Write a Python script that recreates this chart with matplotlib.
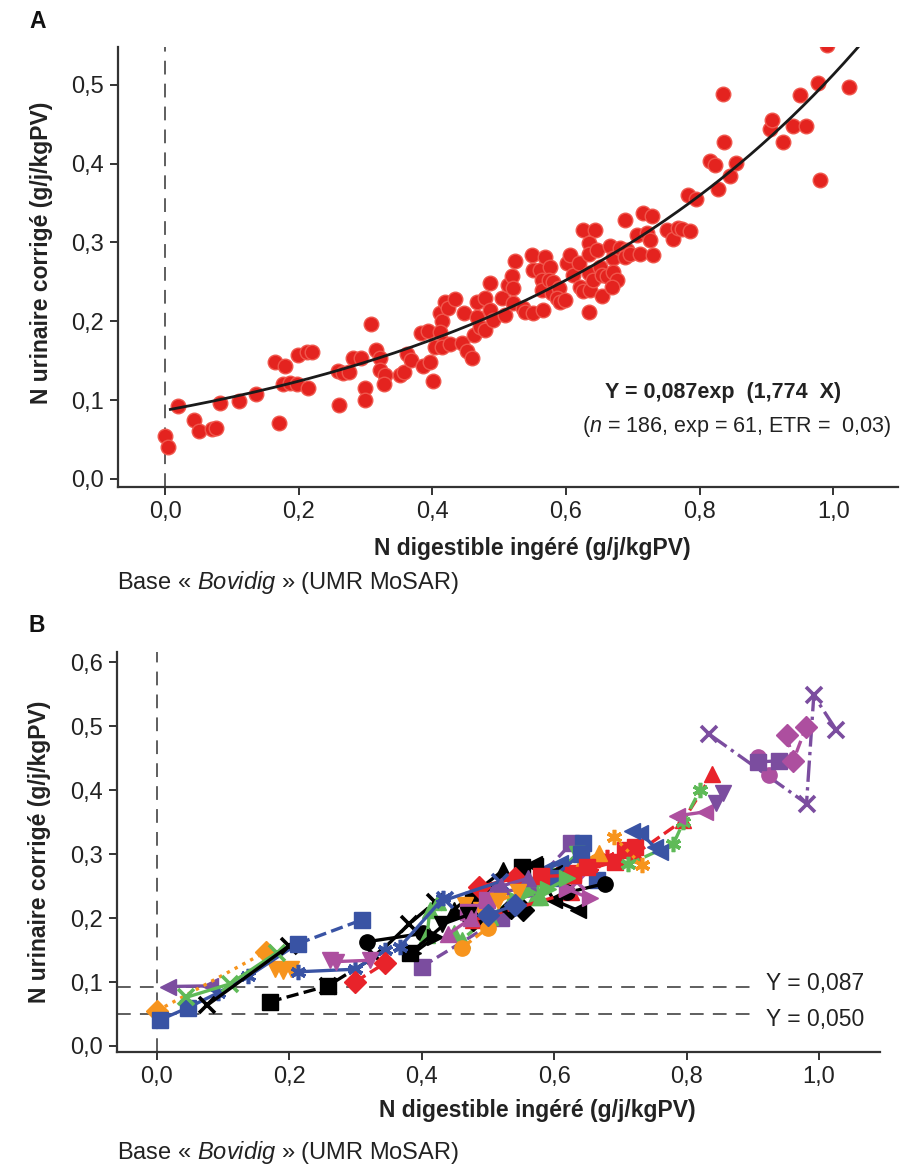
import numpy as np
import matplotlib
matplotlib.use('Agg')
import matplotlib.pyplot as plt

plt.rcParams['font.family'] = ['Liberation Sans', 'DejaVu Sans']
plt.rcParams['mathtext.fontset'] = 'custom'
plt.rcParams['mathtext.rm'] = 'Liberation Sans'
plt.rcParams['mathtext.it'] = 'Liberation Sans:italic'
plt.rcParams['mathtext.bf'] = 'Liberation Sans:bold'

# ---- panel A : individual observations ----
A_X = [0.000, 0.005, 0.020, 0.044, 0.051, 0.070, 0.076, 0.082, 0.110, 0.136,
       0.165, 0.180, 0.170, 0.176, 0.187, 0.197, 0.214, 0.199, 0.212, 0.220,
       0.259, 0.266, 0.276, 0.260, 0.282, 0.294, 0.299, 0.299, 0.308, 0.316,
       0.322, 0.321, 0.329, 0.328, 0.352, 0.358, 0.362, 0.368, 0.383, 0.394,
       0.386, 0.397, 0.401, 0.404, 0.412, 0.415, 0.412, 0.417, 0.419, 0.423,
       0.414, 0.427, 0.434, 0.447, 0.444, 0.452, 0.459, 0.462, 0.467, 0.467,
       0.479, 0.472, 0.479, 0.487, 0.487, 0.491, 0.504, 0.509, 0.514, 0.519,
       0.521, 0.521, 0.524, 0.536, 0.539, 0.551, 0.566, 0.549, 0.551, 0.561,
       0.569, 0.576, 0.564, 0.564, 0.574, 0.581, 0.579, 0.589, 0.586, 0.591,
       0.599, 0.601, 0.606, 0.611, 0.619, 0.621, 0.626, 0.626, 0.644, 0.634,
       0.634, 0.634, 0.636, 0.634, 0.641, 0.646, 0.651, 0.654, 0.654, 0.661,
       0.666, 0.671, 0.671, 0.676, 0.669, 0.681, 0.691, 0.689, 0.689, 0.696,
       0.706, 0.711, 0.716, 0.729, 0.721, 0.726, 0.731, 0.752, 0.760, 0.768,
       0.773, 0.785, 0.783, 0.794, 0.815, 0.823, 0.828, 0.835, 0.837, 0.845,
       0.854, 0.906, 0.908, 0.925, 0.940, 0.950, 0.959, 0.978, 0.981, 0.991,
       1.024]
A_Y = [0.055, 0.040, 0.093, 0.075, 0.061, 0.063, 0.065, 0.096, 0.099, 0.108,
       0.148, 0.143, 0.071, 0.120, 0.122, 0.120, 0.116, 0.157, 0.161, 0.161,
       0.137, 0.134, 0.136, 0.094, 0.154, 0.154, 0.116, 0.100, 0.197, 0.164,
       0.153, 0.138, 0.132, 0.120, 0.132, 0.136, 0.158, 0.151, 0.185, 0.188,
       0.143, 0.148, 0.124, 0.168, 0.210, 0.200, 0.187, 0.172, 0.225, 0.217,
       0.168, 0.171, 0.228, 0.210, 0.172, 0.162, 0.153, 0.183, 0.206, 0.225,
       0.229, 0.193, 0.189, 0.214, 0.248, 0.202, 0.230, 0.208, 0.246, 0.257,
       0.242, 0.223, 0.276, 0.217, 0.212, 0.210, 0.214, 0.284, 0.265, 0.265,
       0.282, 0.269, 0.253, 0.240, 0.253, 0.250, 0.236, 0.242, 0.229, 0.225,
       0.227, 0.274, 0.284, 0.259, 0.274, 0.244, 0.238, 0.316, 0.316, 0.299,
       0.286, 0.212, 0.240, 0.261, 0.253, 0.291, 0.269, 0.259, 0.232, 0.257,
       0.295, 0.280, 0.263, 0.253, 0.244, 0.293, 0.291, 0.282, 0.329, 0.286,
       0.310, 0.286, 0.337, 0.333, 0.312, 0.303, 0.284, 0.316, 0.305, 0.318,
       0.317, 0.315, 0.360, 0.355, 0.404, 0.398, 0.368, 0.489, 0.427, 0.384,
       0.401, 0.444, 0.455, 0.427, 0.448, 0.487, 0.448, 0.502, 0.379, 0.551,
       0.497]

# fitted model Y = a exp(b X)
FIT_A = 0.087
FIT_B = 1.774
FIT_RANGE = (0.008, 1.037)

# ---- panel B : one line per experiment ----
B_X = [
    [0.017, 0.080], [0.000, 0.164], [0.178, 0.190, 0.203], [0.005, 0.047],
    [0.047, 0.092, 0.138, 0.213], [0.044, 0.110, 0.181], [0.076, 0.200],
    [0.170, 0.258], [0.258, 0.330, 0.380, 0.420], [0.213, 0.309],
    [0.213, 0.299, 0.345], [0.261, 0.271, 0.322], [0.317, 0.402],
    [0.299, 0.345], [0.400, 0.520, 0.626], [0.644, 0.664],
    [0.408, 0.412, 0.425], [0.448, 0.460, 0.503, 0.566, 0.571],
    [0.448, 0.523], [0.382, 0.478, 0.551], [0.569, 0.599, 0.636],
    [0.478, 0.535, 0.553], [0.478, 0.626], [0.614, 0.629, 0.692, 0.707, 0.722],
    [0.722, 0.795, 0.839], [0.655, 0.666, 0.680], [0.486, 0.540],
    [0.712, 0.780, 0.795, 0.820], [0.690, 0.732], [0.786, 0.828],
    [0.844, 0.855], [0.717, 0.730, 0.752, 0.760],
    [0.834, 0.981, 0.992, 1.026], [0.908, 0.925], [0.908, 0.939],
    [0.951, 0.961, 0.980], [0.620, 0.677], [0.640, 0.667], [0.599, 0.634],
    [0.460, 0.500], [0.465, 0.490], [0.435, 0.518], [0.654, 0.620],
    [0.609, 0.585], [0.634, 0.600], [0.513, 0.560], [0.498, 0.470],
    [0.540, 0.560], [0.387, 0.420], [0.367, 0.432],
    [0.556, 0.573, 0.578], [0.571, 0.600], [0.596, 0.640],
    [0.580, 0.628, 0.650], [0.520, 0.560], [0.515, 0.545],
    [0.590, 0.620], [0.430, 0.470], [0.440, 0.475], [0.500, 0.540],
]
B_Y = [
    [0.093, 0.094], [0.055, 0.147], [0.121, 0.118, 0.121], [0.041, 0.060],
    [0.060, 0.083, 0.109, 0.160], [0.076, 0.097, 0.146], [0.064, 0.157],
    [0.069, 0.094], [0.094, 0.140, 0.190, 0.225], [0.160, 0.197],
    [0.116, 0.120, 0.150], [0.134, 0.132, 0.134], [0.163, 0.176],
    [0.100, 0.130], [0.124, 0.200, 0.317], [0.317, 0.260],
    [0.173, 0.212, 0.225], [0.176, 0.166, 0.202, 0.252, 0.233],
    [0.213, 0.275], [0.145, 0.228, 0.280], [0.285, 0.228, 0.212],
    [0.197, 0.215, 0.213], [0.197, 0.240], [0.267, 0.270, 0.288, 0.306, 0.311],
    [0.300, 0.353, 0.425], [0.280, 0.291, 0.295], [0.249, 0.262],
    [0.284, 0.316, 0.350, 0.400], [0.327, 0.283], [0.360, 0.366],
    [0.380, 0.396], [0.336, 0.333, 0.311, 0.304],
    [0.4875, 0.379, 0.548, 0.494], [0.452, 0.423], [0.444, 0.446],
    [0.486, 0.446, 0.498], [0.240, 0.254], [0.285, 0.301], [0.265, 0.300],
    [0.153, 0.185], [0.220, 0.213], [0.228, 0.257], [0.231, 0.245],
    [0.286, 0.275], [0.257, 0.262], [0.241, 0.246], [0.228, 0.210],
    [0.230, 0.240], [0.145, 0.170], [0.155, 0.231],
    [0.248, 0.262, 0.233], [0.281, 0.270], [0.262, 0.300],
    [0.265, 0.267, 0.280], [0.250, 0.262], [0.226, 0.240],
    [0.245, 0.262], [0.190, 0.205], [0.175, 0.200], [0.205, 0.220],
]
B_HLINES = [0.093, 0.050]
B_HLABELS = ['Y = 0,087', 'Y = 0,050']

X_TICKS = [0.0, 0.2, 0.4, 0.6, 0.8, 1.0]
X_TICKLABELS = ['0,0', '0,2', '0,4', '0,6', '0,8', '1,0']
A_YTICKS = [0.0, 0.1, 0.2, 0.3, 0.4, 0.5]
A_YTICKLABELS = ['0,0', '0,1', '0,2', '0,3', '0,4', '0,5']
B_YTICKS = [0.0, 0.1, 0.2, 0.3, 0.4, 0.5, 0.6]
B_YTICKLABELS = ['0,0', '0,1', '0,2', '0,3', '0,4', '0,5', '0,6']

# styles for panel B series
R, BL, G, O = '#e8232a', '#3953a4', '#5fba58', '#f7941d'
P, M, K = '#7b4d9f', '#ad4f9f', '#000000'
AST = (6, 2, 0)
B_STYLE = [
    (P, '<', '-'), (O, 'D', ':'), (O, 'v', '-'), (BL, 's', '-'),
    (BL, AST, '-'), (G, 'x', '-'), (K, 'x', '-'),
    (K, 's', '--'), (K, 'x', '-.'), (BL, 's', '--'),
    (BL, AST, '-'), (M, 'v', '-'), (K, 'o', '-'),
    (R, 'D', '--'), (P, 's', '--'), (BL, 's', '-'),
    (G, '^', '-'), (G, '^', '--'),
    (K, '^', '-'), (K, 's', '-'), (K, '<', '-'),
    (K, 'D', '-'), (R, '^', '--'), (R, 's', '-'),
    (R, '^', '--'), (R, AST, '-'), (R, 'D', '-'),
    (G, AST, '--'), (O, AST, ':'), (M, '<', '-'),
    (P, 'v', '-'), (BL, '<', '-'),
    (P, 'x', '-.'), (M, 'o', '-'), (P, 's', '-'),
    (M, 'D', '--'), (K, 'o', '-'), (O, '^', '-'), (G, 'v', '-'),
    (O, 'o', '--'), (O, 'v', '-'), (BL, 'x', '-'), (M, '>', '-'),
    (BL, '<', '-'), (M, 'x', '-'), (P, 'o', '-'), (M, 's', '-'),
    (G, '>', '-'), (K, '>', '-'), (BL, AST, '-'),
    (G, '^', '-'), (K, '<', '-'), (BL, 's', '-'),
    (R, 's', '-'), (P, '^', '-'), (O, 'v', '--'),
    (G, '>', '-'), (K, 'v', '-'), (M, '^', '-'), (BL, 'D', '-'),
]

SPINE = '#333333'
TICK_FS = 17
LABEL_FS = 16.5


def style_axes(ax, yticks, yticklabels, tick_fs):
    for side in ['top', 'right']:
        ax.spines[side].set_visible(False)
    for side in ['left', 'bottom']:
        ax.spines[side].set_color(SPINE)
        ax.spines[side].set_linewidth(1.6)
    ax.set_xticks(X_TICKS)
    ax.set_xticklabels(X_TICKLABELS)
    ax.set_yticks(yticks)
    ax.set_yticklabels(yticklabels)
    ax.tick_params(direction='out', length=6, width=1.4, color=SPINE,
                   labelsize=tick_fs, labelcolor='#222222', pad=4)


fig = plt.figure(figsize=(9.07, 11.64), dpi=100)
W, H = 907.0, 1164.0

# ---------------- panel A ----------------
ax_a = fig.add_axes([118 / W, 1 - 487 / H, (898 - 118) / W, (487 - 47) / H])
ax_a.set_xlim(-0.0704, 1.097)
ax_a.set_ylim(-0.0102, 0.548)
ax_a.axvline(0, color='#333333', lw=1.1, dashes=(9, 6), zorder=1)
ax_a.scatter(A_X, A_Y, s=110, color='#e4231f', edgecolors='#f0564c',
             linewidths=1.0, zorder=2)
xf = np.linspace(FIT_RANGE[0], FIT_RANGE[1], 200)
ax_a.plot(xf, FIT_A * np.exp(FIT_B * xf), color='#1a1a1a', lw=2.0, zorder=3)
style_axes(ax_a, A_YTICKS, A_YTICKLABELS, TICK_FS)

ax_a.text(0.835, 0.110, 'Y = 0,087exp  (1,774  X)', fontsize=15.5,
          fontweight='bold', ha='center', va='center', color='#222222')
ax_a.text(0.856, 0.067, r'($\mathit{n}$ = 186, exp = 61, ETR =  0,03)',
          fontsize=15.5, ha='center', va='center', color='#222222')

fig.text(42 / W, 1 - 253 / H, 'N urinaire corrigé (g/j/kgPV)', rotation=90,
         fontsize=LABEL_FS, fontweight='bold', ha='center', va='center',
         color='#222222')
fig.text(532 / W, 1 - 548 / H, 'N digestible ingéré (g/j/kgPV)',
         fontsize=LABEL_FS, fontweight='bold', ha='center', va='center',
         color='#222222')
fig.text(117 / W, 1 - 582 / H, r'Base « $\mathit{Bovidig}$ » (UMR MoSAR)',
         fontsize=17, ha='left', va='center', color='#222222')
fig.text(29 / W, 1 - 21 / H, 'A', fontsize=16.5, fontweight='bold',
         ha='left', va='center', color='#111111')

# ---------------- panel B ----------------
ax_b = fig.add_axes([117 / W, 1 - 1052 / H, (880 - 117) / W, (1052 - 652) / H])
ax_b.set_xlim(-0.0604, 1.092)
ax_b.set_ylim(-0.0094, 0.616)
ax_b.axvline(0, color='#333333', lw=1.1, dashes=(9, 6), zorder=1)
for yv in B_HLINES:
    ax_b.plot([-0.0604, 0.905], [yv, yv], color='#333333', lw=1.1,
              dashes=(9, 6), zorder=1)
ax_b.text(0.920, B_HLINES[0] + 0.004, B_HLABELS[0], fontsize=16.5,
          ha='left', va='center', color='#222222')
ax_b.text(0.920, B_HLINES[1] - 0.008, B_HLABELS[1], fontsize=16.5,
          ha='left', va='center', color='#222222')

for xs, ys, (col, mk, ls) in zip(B_X, B_Y, B_STYLE):
    mew = 2.6 if mk in ('x', AST) else 1.0
    ax_b.plot(xs, ys, color=col, linestyle=ls, lw=2.4, marker=mk,
              markersize=11, markeredgewidth=mew, markerfacecolor=col,
              markeredgecolor=col, zorder=2)
style_axes(ax_b, B_YTICKS, B_YTICKLABELS, TICK_FS)

fig.text(40 / W, 1 - 852 / H, 'N urinaire corrigé (g/j/kgPV)', rotation=90,
         fontsize=LABEL_FS, fontweight='bold', ha='center', va='center',
         color='#222222')
fig.text(537 / W, 1 - 1110 / H, 'N digestible ingéré (g/j/kgPV)',
         fontsize=LABEL_FS, fontweight='bold', ha='center', va='center',
         color='#222222')
fig.text(117 / W, 1 - 1152 / H, r'Base « $\mathit{Bovidig}$ » (UMR MoSAR)',
         fontsize=17, ha='left', va='center', color='#222222')
fig.text(29 / W, 1 - 626 / H, 'B', fontsize=16.5, fontweight='bold',
         ha='left', va='center', color='#111111')

fig.savefig('out.png', dpi=100)
